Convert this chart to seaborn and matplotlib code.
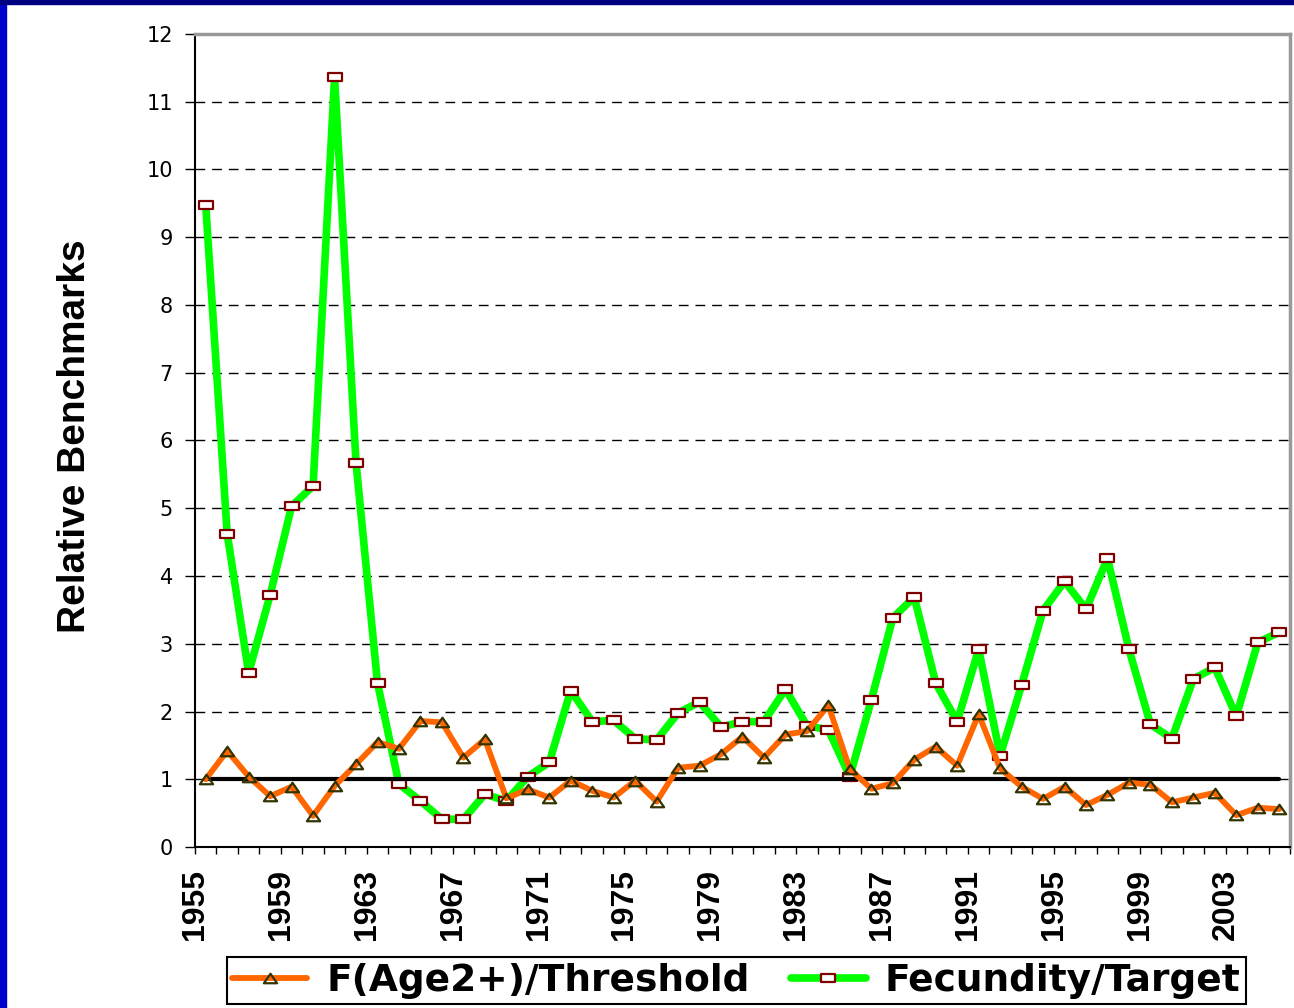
import numpy as np
import pandas as pd
import matplotlib
matplotlib.use("Agg")
import matplotlib.pyplot as plt
import seaborn as sns
from matplotlib.path import Path
from matplotlib.patches import Rectangle

sns.set_theme(style="white")
plt.rcParams['font.family'] = ['Liberation Sans', 'DejaVu Sans']
plt.rcParams['text.color'] = 'black'
plt.rcParams['axes.labelcolor'] = 'black'
plt.rcParams['xtick.color'] = 'black'
plt.rcParams['ytick.color'] = 'black'

# data
years = list(range(1955, 2006))

f_age2_threshold = [
    1.00, 1.42, 1.04, 0.75, 0.89, 0.46, 0.90, 1.22, 1.55, 1.45,
    1.86, 1.84, 1.32, 1.59, 0.72, 0.85, 0.73, 0.98, 0.83, 0.73,
    0.98, 0.67, 1.17, 1.20, 1.37, 1.63, 1.32, 1.66, 1.71, 2.09,
    1.15, 0.86, 0.94, 1.29, 1.48, 1.20, 1.96, 1.16, 0.89, 0.71,
    0.89, 0.62, 0.77, 0.95, 0.92, 0.66, 0.73, 0.80, 0.47, 0.58,
    0.56,
]

fecundity_target = [
    9.47, 4.62, 2.57, 3.72, 5.03, 5.33, 11.36, 5.67, 2.42, 0.93,
    0.68, 0.41, 0.41, 0.78, 0.68, 1.04, 1.25, 2.31, 1.85, 1.87,
    1.60, 1.58, 1.98, 2.14, 1.77, 1.85, 1.85, 2.33, 1.79, 1.73,
    1.04, 2.17, 3.38, 3.69, 2.42, 1.85, 2.92, 1.35, 2.39, 3.49,
    3.92, 3.51, 4.26, 2.92, 1.81, 1.60, 2.48, 2.65, 1.93, 3.02,
    3.17,
]

ref_level = 1.0
series_names = ["F(Age2+)/Threshold", "Fecundity/Target"]

df = pd.DataFrame({"year": years, "f": f_age2_threshold, "fec": fecundity_target})

# wide-ish marker shapes like the stretched original
rect_marker = Path([(-1.6, -1), (1.6, -1), (1.6, 1), (-1.6, 1), (-1.6, -1)],
                   [Path.MOVETO, Path.LINETO, Path.LINETO, Path.LINETO, Path.CLOSEPOLY])
tri_marker = Path([(-1, -0.72), (1, -0.72), (0, 0.72), (-1, -0.72)],
                  [Path.MOVETO, Path.LINETO, Path.LINETO, Path.CLOSEPOLY])

fig = plt.figure(figsize=(12.94, 10.08), dpi=100)
ax = fig.add_axes([0.1507, 0.1597, 0.8462, 0.8066])

sns.lineplot(data=df, x="year", y="fec", ax=ax, color="#00FF00", lw=5.5,
             marker=rect_marker, markersize=9.5, markerfacecolor="white",
             markeredgecolor="#800000", markeredgewidth=1.6,
             label=series_names[1], zorder=3)
ax.plot([years[0], years[-1]], [ref_level, ref_level], color="black",
        lw=3, solid_capstyle="round", zorder=4)
sns.lineplot(data=df, x="year", y="f", ax=ax, color="#FF6600", lw=4.2,
             marker=tri_marker, markersize=9.5, markerfacecolor="none",
             markeredgecolor="#333300", markeredgewidth=1.6,
             label=series_names[0], zorder=5)

ax.set_xlim(years[0] - 0.5, years[-1] + 0.5)
ax.set_ylim(0, 12)
ax.set_yticks(range(0, 13))

bounds = np.arange(years[0] - 0.5, years[-1] + 1)
labels = [str(int(b + 0.5)) if (int(b + 0.5) - years[0]) % 4 == 0 and b + 0.5 <= years[-1] else ""
          for b in bounds]
ax.set_xticks(bounds)
ax.set_xticklabels(labels, rotation=90, fontsize=23, fontweight="bold",
                   family=['Liberation Sans Narrow', 'Liberation Sans'])
ax.tick_params(axis="x", direction="out", length=5, width=1, color="black", pad=11, bottom=True)
ax.tick_params(axis="y", direction="out", length=7, width=1, color="black", pad=9,
               labelsize=15, left=True)
for lab in ax.get_yticklabels():
    lab.set_family(['DejaVu Sans'])

ax.yaxis.grid(True, linestyle=(0, (7, 5)), color="black", lw=1)
ax.xaxis.grid(False)
ax.set_axisbelow(True)

ax.spines["left"].set_color("black")
ax.spines["left"].set_linewidth(1.5)
ax.spines["bottom"].set_color("black")
ax.spines["bottom"].set_linewidth(1.5)
for s in ["top", "right"]:
    ax.spines[s].set_color("#999999")
    ax.spines[s].set_linewidth(2.5)

ax.set_xlabel("")
ax.set_ylabel("Relative Benchmarks", fontsize=28, fontweight="bold")
ax.yaxis.set_label_coords(-0.093, 0.505)

handles, labs = ax.get_legend_handles_labels()
order = [labs.index(n) for n in series_names]
ax.get_legend().remove()
leg = fig.legend([handles[i] for i in order], [labs[i] for i in order],
                 loc="lower center", bbox_to_anchor=(0.569, 0.0), ncol=2,
                 frameon=True, fancybox=False, framealpha=1, edgecolor="black",
                 prop={"family": "DejaVu Sans", "weight": "bold", "size": 27},
                 handlelength=2.0, handletextpad=0.5, columnspacing=1.1,
                 borderpad=0.15, borderaxespad=0.1)
leg.get_frame().set_linewidth(1.5)

# blue slide border strips
fig.patches.append(Rectangle((0, 0), 6 / 1294, 1, transform=fig.transFigure,
                             color="#0000CC", zorder=10))
fig.patches.append(Rectangle((0, 1 - 4 / 1008), 1, 4 / 1008, transform=fig.transFigure,
                             color="#000080", zorder=10))

fig.savefig("out.png", dpi=100)
